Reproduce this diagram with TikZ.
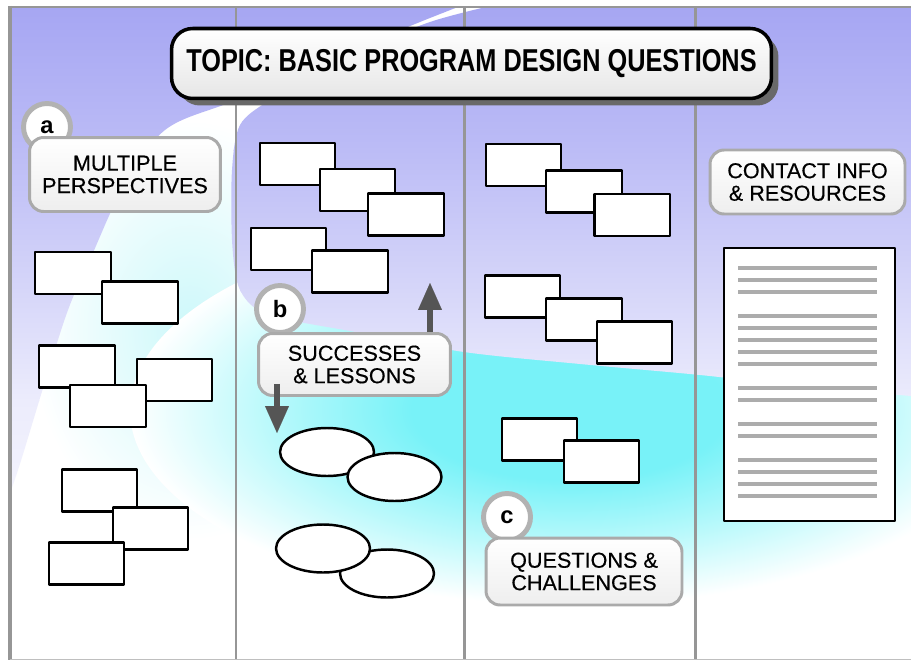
\documentclass[tikz,border=0pt]{standalone}
\usepackage{fontspec}
\setmainfont{Liberation Sans}
\newfontfamily\tagfont[FakeBold=0.4]{Liberation Sans}
\usetikzlibrary{shapes.geometric,arrows.meta,shadows,calc}

\definecolor{lavA}{RGB}{165,165,242}
\definecolor{lavB}{RGB}{188,188,246}
\definecolor{lavC}{RGB}{214,214,249}
\definecolor{lavD}{RGB}{236,236,252}
\definecolor{aqua}{RGB}{120,242,248}
\definecolor{aquamid}{RGB}{185,249,251}
\definecolor{aqualt}{RGB}{205,248,250}
\definecolor{framegray}{RGB}{150,150,150}
\definecolor{ringgray}{RGB}{178,178,178}
\definecolor{boxgray}{RGB}{170,170,170}
\definecolor{arrowgray}{RGB}{85,85,85}
\definecolor{shadowgray}{RGB}{105,105,105}
\definecolor{bannerfill}{RGB}{230,230,230}
\definecolor{rulegray}{RGB}{172,172,172}
\definecolor{tagbottom}{RGB}{238,238,238}

\pgfdeclareradialshading{aquaglow}{\pgfpoint{0bp}{0bp}}{color(0bp)=(aqua); color(9bp)=(aqua); color(17bp)=(aquamid); color(25bp)=(white); color(50bp)=(white)}
\pgfdeclareradialshading{softglow}{\pgfpoint{0bp}{0bp}}{color(0bp)=(aqualt); color(25bp)=(white); color(50bp)=(white)}

% vertical lavender wash, used inside the clipped sky regions
\newcommand\lavbands{%
  \shade[top color=lavA, bottom color=lavB] (0,0) rectangle (911,151);
  \shade[top color=lavB, bottom color=lavC] (0,150) rectangle (911,291);
  \shade[top color=lavC, bottom color=lavD] (0,290) rectangle (911,401);
  \shade[top color=lavD, bottom color=white] (0,400) rectangle (911,662);
}

\begin{document}
\begin{tikzpicture}[x=0.02cm, y=-0.02cm, line join=round,
  card/.style={draw=black, fill=white, line width=1.4pt, minimum width=1.51cm,
    minimum height=0.84cm, inner sep=0pt},
  bubble/.style={ellipse, draw=black, fill=white, line width=1.4pt,
    minimum width=1.88cm, minimum height=0.96cm, inner sep=0pt},
  tag/.style={draw=boxgray, line width=1.7pt, rounded corners=8pt,
    top color=white, bottom color=tagbottom, align=center, inner sep=0pt,
    font=\tagfont\fontsize{12.3}{12.8}\selectfont},
  marker/.style={circle, draw=ringgray, line width=2.8pt, fill=white,
    minimum size=0.94cm, inner sep=0pt, font=\fontsize{13.5}{13.5}\selectfont\bfseries},
  fatarrow/.style={draw=arrowgray, line width=3.4pt,
    -{Triangle[length=0.54cm, width=0.48cm, line width=0.1pt]}},
  divider/.style={draw=framegray, line width=1.7pt},
  banner/.style={draw=black, line width=2pt, rounded corners=12pt,
    top color=white, bottom color=bannerfill, inner sep=0pt,
    minimum width=12cm, minimum height=1.4cm,
    drop shadow={shadow xshift=0.14cm, shadow yshift=-0.14cm,
      fill=shadowgray, opacity=1}},
  rule/.style={draw=rulegray, line width=2.3pt}
]
\useasboundingbox (0,0) rectangle (911,662);
\fill[white] (0,0) rectangle (911,662);

% ---- background: aqua glow and lavender sky with a white swoosh ----
\begin{scope}
  \clip (10,7) rectangle (911,659);
  \shade[shading=softglow] (190,330) ellipse [x radius=160, y radius=210];
  \shade[shading=aquaglow] (570,410) ellipse [x radius=440, y radius=195];
  \begin{scope}
    \clip (0,0) -- (476,0) -- plot[smooth, tension=0.55] coordinates
      {(476,0) (420,22) (340,55) (236,100) (165,130) (122,190) (92,255)
       (68,310) (44,385) (18,470) (0,520)} -- cycle;
    \lavbands
  \end{scope}
  \begin{scope}
    \clip (516,0) -- (911,0) -- (911,396) -- plot[smooth, tension=0.5] coordinates
      {(911,396) (800,386) (700,375) (580,364) (464,352) (350,331) (290,320)
       (255,308) (238,285) (232,240) (232,170) (240,125) (270,100) (340,60)
       (430,22) (516,0)} -- cycle;
    \lavbands
  \end{scope}
\end{scope}

% ---- board frame and column dividers ----
\draw[divider] (236,7) -- (236,659);
\draw[divider] (464,7) -- (464,659);
\draw[divider] (695,7) -- (695,659);
\draw[framegray, line width=1.7pt] (8,7) -- (911,7);
\draw[framegray, line width=2.8pt] (10,6) -- (10,660);
\draw[black!25, line width=1pt] (10,659.5) -- (911,659.5);

% ---- title banner ----
\node[banner] (topic) at (471.5,63.5)
  {\fontsize{18}{18}\selectfont\bfseries\scalebox{0.8}[1]{TOPIC: BASIC PROGRAM DESIGN QUESTIONS}};

% ---- column 1: multiple perspectives ----
\node[marker] (ringA) at (47,127) {a};
\node[tag, minimum width=3.82cm, minimum height=1.48cm] (tagA) at (125,174.5)
  {MULTIPLE\\PERSPECTIVES};
\node[card] (r1) at (73,273) {};
\node[card] (r2) at (140,302.5) {};
\node[card] (r3) at (77,366.5) {};
\node[card] (r4) at (174.5,380) {};
\node[card] (r5) at (108,406) {};
\node[card] (r6) at (99.5,490.5) {};
\node[card] (r7) at (150.5,528.5) {};
\node[card] (r8) at (86.5,563.5) {};

% ---- column 2: successes and lessons ----
\node[card] (s1) at (297.5,164) {};
\node[card] (s2) at (357.5,190) {};
\node[card] (s3) at (406,214.5) {};
\node[card] (s4) at (288.5,249) {};
\node[card] (s5) at (350,271.5) {};
\node[marker] (ringB) at (280,309) {b};
\node[tag, minimum width=3.84cm, minimum height=1.24cm] (tagB) at (354.5,364.5)
  {SUCCESSES\\\& LESSONS};
\coordinate (upTip) at (430,283);
\coordinate (downTip) at (277,433);
\draw[fatarrow] (tagB.north -| upTip) -- (upTip);
\draw[fatarrow] ($(tagB.south -| downTip)+(0,-13)$) -- (downTip);
\node[bubble] (e1) at (327,452) {};
\node[bubble] (e2) at (394.5,477) {};
\node[bubble] (e4) at (387,573.5) {};
\node[bubble] (e3) at (323,548.5) {};

% ---- column 3: questions and challenges ----
\node[card] (t1) at (523.5,165) {};
\node[card] (t2) at (584,191.5) {};
\node[card] (t3) at (632,215) {};
\node[card] (t4) at (522.5,296.5) {};
\node[card] (t5) at (584,319.5) {};
\node[card] (t6) at (634.5,342.5) {};
\node[card] (t7) at (539.5,439.5) {};
\node[card] (t8) at (601.5,461.5) {};
\node[marker] (ringC) at (507,517) {c};
\node[tag, minimum width=3.92cm, minimum height=1.34cm] (tagC) at (584,571.5)
  {QUESTIONS \&\\CHALLENGES};

% ---- column 4: contact info and resources ----
\node[tag, minimum width=3.9cm, minimum height=1.28cm] (tagD) at (807.5,182)
  {CONTACT INFO\\\& RESOURCES};
\node[draw=black, fill=white, line width=1.4pt, minimum width=3.42cm,
  minimum height=5.46cm, inner sep=0pt] (sheet) at (809.5,384.5) {};
\foreach \ly in {268,280,292,316,328,340,352,364,388,400,424,436,460,472,484,496}
  \draw[rule] (738,\ly) -- (877,\ly);
\end{tikzpicture}
\end{document}
